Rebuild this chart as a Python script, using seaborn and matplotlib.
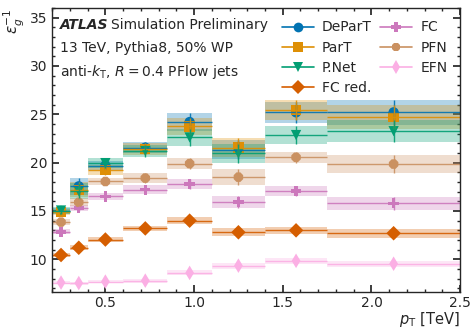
import numpy as np
import pandas as pd
import matplotlib
matplotlib.use("Agg")
import matplotlib.pyplot as plt
import seaborn as sns

# bin edges (TeV) and centres
bin_edges = [0.2, 0.3, 0.4, 0.6, 0.85, 1.1, 1.4, 1.75, 2.5]

taggers = ["DeParT", "ParT", "P.Net", "FC red.", "FC", "PFN", "EFN"]

departt = [15.0, 17.55, 19.7, 21.55, 24.2, 21.35, 25.2, 25.2]
part = [14.9, 17.2, 19.25, 21.4, 23.75, 21.55, 25.45, 24.75]
pnet = [15.05, 17.05, 19.95, 21.2, 22.6, 20.95, 22.85, 23.25]
fc_red = [10.45, 11.2, 12.05, 13.2, 14.0, 12.8, 13.0, 12.7]
fc = [12.85, 15.3, 16.5, 17.2, 17.8, 15.95, 17.05, 15.8]
pfn = [13.85, 15.9, 18.05, 18.4, 19.9, 18.5, 20.55, 19.85]
efn = [7.6, 7.55, 7.7, 7.8, 8.6, 9.35, 9.85, 9.55]

departt_err = [0.35, 0.85, 0.5, 0.6, 0.9, 0.95, 1.1, 1.3]
part_err = [0.35, 0.8, 0.55, 0.6, 0.85, 0.95, 1.0, 1.25]
pnet_err = [0.35, 0.8, 0.55, 0.6, 0.85, 1.0, 0.95, 1.15]
fc_red_err = [0.2, 0.25, 0.25, 0.3, 0.35, 0.4, 0.35, 0.45]
fc_err = [0.25, 0.35, 0.35, 0.45, 0.5, 0.65, 0.5, 0.65]
pfn_err = [0.3, 0.4, 0.4, 0.55, 0.6, 0.8, 0.6, 0.95]
efn_err = [0.15, 0.15, 0.15, 0.2, 0.25, 0.3, 0.3, 0.3]

values = [departt, part, pnet, fc_red, fc, pfn, efn]
errors = [departt_err, part_err, pnet_err, fc_red_err, fc_err, pfn_err, efn_err]

palette = sns.color_palette("colorblind")
colors = {
    "DeParT": palette[0], "ParT": palette[1], "P.Net": palette[2],
    "FC red.": palette[3], "FC": palette[4], "PFN": palette[5], "EFN": palette[6],
}
markers = {"DeParT": "o", "ParT": "s", "P.Net": "v", "FC red.": "D",
           "FC": "P", "PFN": "8", "EFN": "d"}

edges = np.array(bin_edges)
centres = 0.5 * (edges[:-1] + edges[1:])
halfw = 0.5 * (edges[1:] - edges[:-1])

rows = []
for t, v, e in zip(taggers, values, errors):
    for c, hw, vv, ee in zip(centres, halfw, v, e):
        rows.append(dict(tagger=t, pt=c, hw=hw, eff=vv, err=ee))
df = pd.DataFrame(rows)

sns.set_theme(style="ticks")
plt.rcParams["font.family"] = ["DejaVu Sans"]

fig = plt.figure(figsize=(4.7, 3.28), dpi=100)
ax = fig.add_axes([0.111, 0.109, 0.868, 0.867])

for t in taggers:
    d = df[df.tagger == t]
    col = colors[t]
    for _, r in d.iterrows():
        ax.fill_between([r.pt - r.hw, r.pt + r.hw], r.eff - r.err, r.eff + r.err,
                        color=col, alpha=0.3, linewidth=0)
    ax.errorbar(d.pt, d.eff, xerr=d.hw, yerr=d.err, fmt="none", ecolor=col,
                elinewidth=1.0, alpha=0.9)

sns.scatterplot(data=df, x="pt", y="eff", hue="tagger", style="tagger",
                palette=colors, markers=markers, hue_order=taggers,
                style_order=taggers, s=55, edgecolor="none", ax=ax, legend=False)

# legend
from matplotlib.lines import Line2D
handles = [Line2D([0], [0], color=colors[t], marker=markers[t], markersize=7,
                  lw=1.2, markeredgewidth=0) for t in taggers]
ax.legend(handles, taggers, ncol=2, loc="upper right", frameon=False,
          fontsize=10, handlelength=2.3, columnspacing=0.6, labelspacing=0.45,
          handletextpad=0.6, bbox_to_anchor=(1.0, 1.0))

ax.set_xlim(0.2, 2.5)
ax.set_ylim(6.6, 36.0)
ax.set_xticks([0.5, 1.0, 1.5, 2.0, 2.5])
ax.set_yticks([10, 15, 20, 25, 30, 35])
ax.xaxis.set_minor_locator(matplotlib.ticker.MultipleLocator(0.1))
ax.yaxis.set_minor_locator(matplotlib.ticker.MultipleLocator(1))
ax.tick_params(which="both", direction="in", top=True, right=True, labelsize=10)
ax.tick_params(axis="x", which="major", pad=2.5)
ax.tick_params(which="major", length=5)
ax.tick_params(which="minor", length=2.5)
for s in ax.spines.values():
    s.set_linewidth(1.0)

ax.set_xlabel(r"$p_{\mathrm{T}}$ [TeV]", fontsize=10.5, loc="right", labelpad=0)
ax.set_ylabel(r"$\varepsilon_g^{-1}$", fontsize=11, loc="top", labelpad=2)

ax.text(0.02, 0.965, "ATLAS", transform=ax.transAxes, fontsize=10,
        fontweight="bold", fontstyle="italic", va="top")
ax.text(0.145, 0.965, "Simulation Preliminary", transform=ax.transAxes,
        fontsize=10, va="top")
ax.text(0.02, 0.885, "13 TeV, Pythia8, 50% WP", transform=ax.transAxes,
        fontsize=10, va="top")
ax.text(0.02, 0.805, r"anti-$k_{\mathrm{T}}$, $R=0.4$ PFlow jets",
        transform=ax.transAxes, fontsize=10, va="top")

fig.savefig("out.png", dpi=100)
